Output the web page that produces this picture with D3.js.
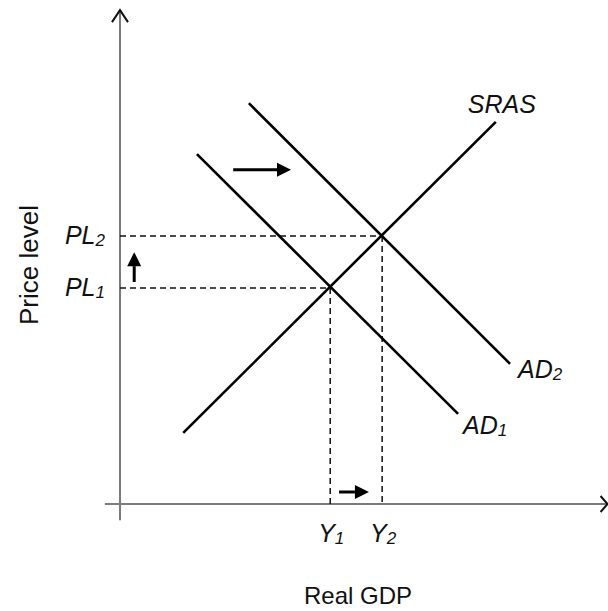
<!DOCTYPE html>
<html>
<head>
<meta charset="utf-8">
<title>AD shift</title>
<script src="https://cdn.jsdelivr.net/npm/d3@7"></script>
<style>
  body { margin: 0; background: #fff; }
  text { font-family: "Liberation Sans", Arial, sans-serif; fill: #111; }
  .lbl { font-style: italic; font-size: 25px; }
</style>
</head>
<body>
<script>
// curves in chart units (0..10 on both axes)
var sras = [{x: 1.29, y: 1.45}, {x: 7.67, y: 7.80}];
var ad1  = [{x: 1.57, y: 7.14}, {x: 6.90, y: 1.84}];
var ad2  = [{x: 2.63, y: 8.18}, {x: 7.96, y: 2.86}];
var equilibria = [{x: 4.29, y: 4.41}, {x: 5.35, y: 5.47}];
var priceLabels = [{main: "PL", sub: "1"}, {main: "PL", sub: "2"}];
var gdpLabels = [{main: "Y", sub: "1"}, {main: "Y", sub: "2"}];
var shifts = [
    {x1: 2.31, y1: 6.82, x2: 3.49, y2: 6.82},
    {x1: 0.29, y1: 4.53, x2: 0.29, y2: 5.14},
    {x1: 4.47, y1: 0.245, x2: 5.08, y2: 0.245}
];

var width = 608, height = 611,
    x = d3.scaleLinear().domain([0, 10]).range([120, 610]),
    y = d3.scaleLinear().domain([0, 10]).range([504, 14]);

var svg = d3.select("body").append("svg")
    .attr("width", width).attr("height", height);

var line = d3.line()
    .x(function(d) { return x(d.x); })
    .y(function(d) { return y(d.y); });

// axes
var ax = svg.append("g").attr("stroke", "#7a7a7a").attr("stroke-width", 2).attr("fill", "none");
ax.append("path").attr("d", line([{x: 0, y: -0.33}, {x: 0, y: 10.08}]));
ax.append("path").attr("d", line([{x: -0.31, y: 0}, {x: 9.95, y: 0}]));
var head = svg.append("g").attr("stroke", "#111").attr("stroke-width", 2).attr("fill", "none");
head.append("path").attr("d", "M" + (x(0) - 8) + "," + (y(10.08) + 12) + "L" + x(0) + "," + y(10.08) + "L" + (x(0) + 8) + "," + (y(10.08) + 12));
head.append("path").attr("d", "M" + (x(9.95) - 7) + "," + (y(0) - 8) + "L" + x(9.95) + "," + y(0) + "L" + (x(9.95) - 7) + "," + (y(0) + 8));

// dashed guides
var guides = svg.append("g").attr("stroke", "#111").attr("stroke-width", 1.5)
    .attr("stroke-dasharray", "6,4").attr("fill", "none");
equilibria.forEach(function(e) {
    guides.append("path").attr("d", line([{x: 0, y: e.y}, e]));
    guides.append("path").attr("d", line([e, {x: e.x, y: 0}]));
});

// curves
svg.selectAll("path.curve")
    .data([sras, ad1, ad2])
    .enter().append("path")
    .attr("class", "curve")
    .attr("d", function(d) { return line(d); })
    .attr("stroke", "#000").attr("stroke-width", 2.6).attr("fill", "none");

// shift arrows
shifts.forEach(function(s) {
    var x1 = x(s.x1), y1 = y(s.y1), x2 = x(s.x2), y2 = y(s.y2);
    var a = Math.atan2(y2 - y1, x2 - x1), hl = 14, hw = 7;
    var bx = x2 - hl * Math.cos(a), by = y2 - hl * Math.sin(a);
    svg.append("line").attr("x1", x1).attr("y1", y1).attr("x2", bx).attr("y2", by)
        .attr("stroke", "#000").attr("stroke-width", 3);
    svg.append("path")
        .attr("d", "M" + x2 + "," + y2 +
            "L" + (bx - hw * Math.sin(a)) + "," + (by + hw * Math.cos(a)) +
            "L" + (bx + hw * Math.sin(a)) + "," + (by - hw * Math.cos(a)) + "Z")
        .attr("fill", "#000");
});

function label(px, py, d, anchor) {
    var t = svg.append("text").attr("class", "lbl")
        .attr("x", px).attr("y", py).attr("text-anchor", anchor);
    t.append("tspan").text(d.main);
    if (d.sub) t.append("tspan").attr("font-size", "17px").attr("dy", 2).text(d.sub);
    return t;
}

equilibria.forEach(function(e, i) {
    label(105, y(e.y) + 8, priceLabels[i], "end");
    label(x(e.x) + 1, 542, gdpLabels[i], "middle");
});

label(x(sras[1].x) - 28, y(sras[1].y) - 9, {main: "SRAS"}, "start");
label(x(ad2[1].x) + 8, y(ad2[1].y) + 14, {main: "AD", sub: "2"}, "start");
label(x(ad1[1].x) + 5, y(ad1[1].y) + 20, {main: "AD", sub: "1"}, "start");

svg.append("text").attr("x", 358).attr("y", 604).attr("text-anchor", "middle")
    .attr("font-size", "24px").text("Real GDP");
svg.append("text").attr("transform", "translate(38,265) rotate(-90)")
    .attr("text-anchor", "middle").attr("font-size", "26px").text("Price level");
</script>
</body>
</html>
